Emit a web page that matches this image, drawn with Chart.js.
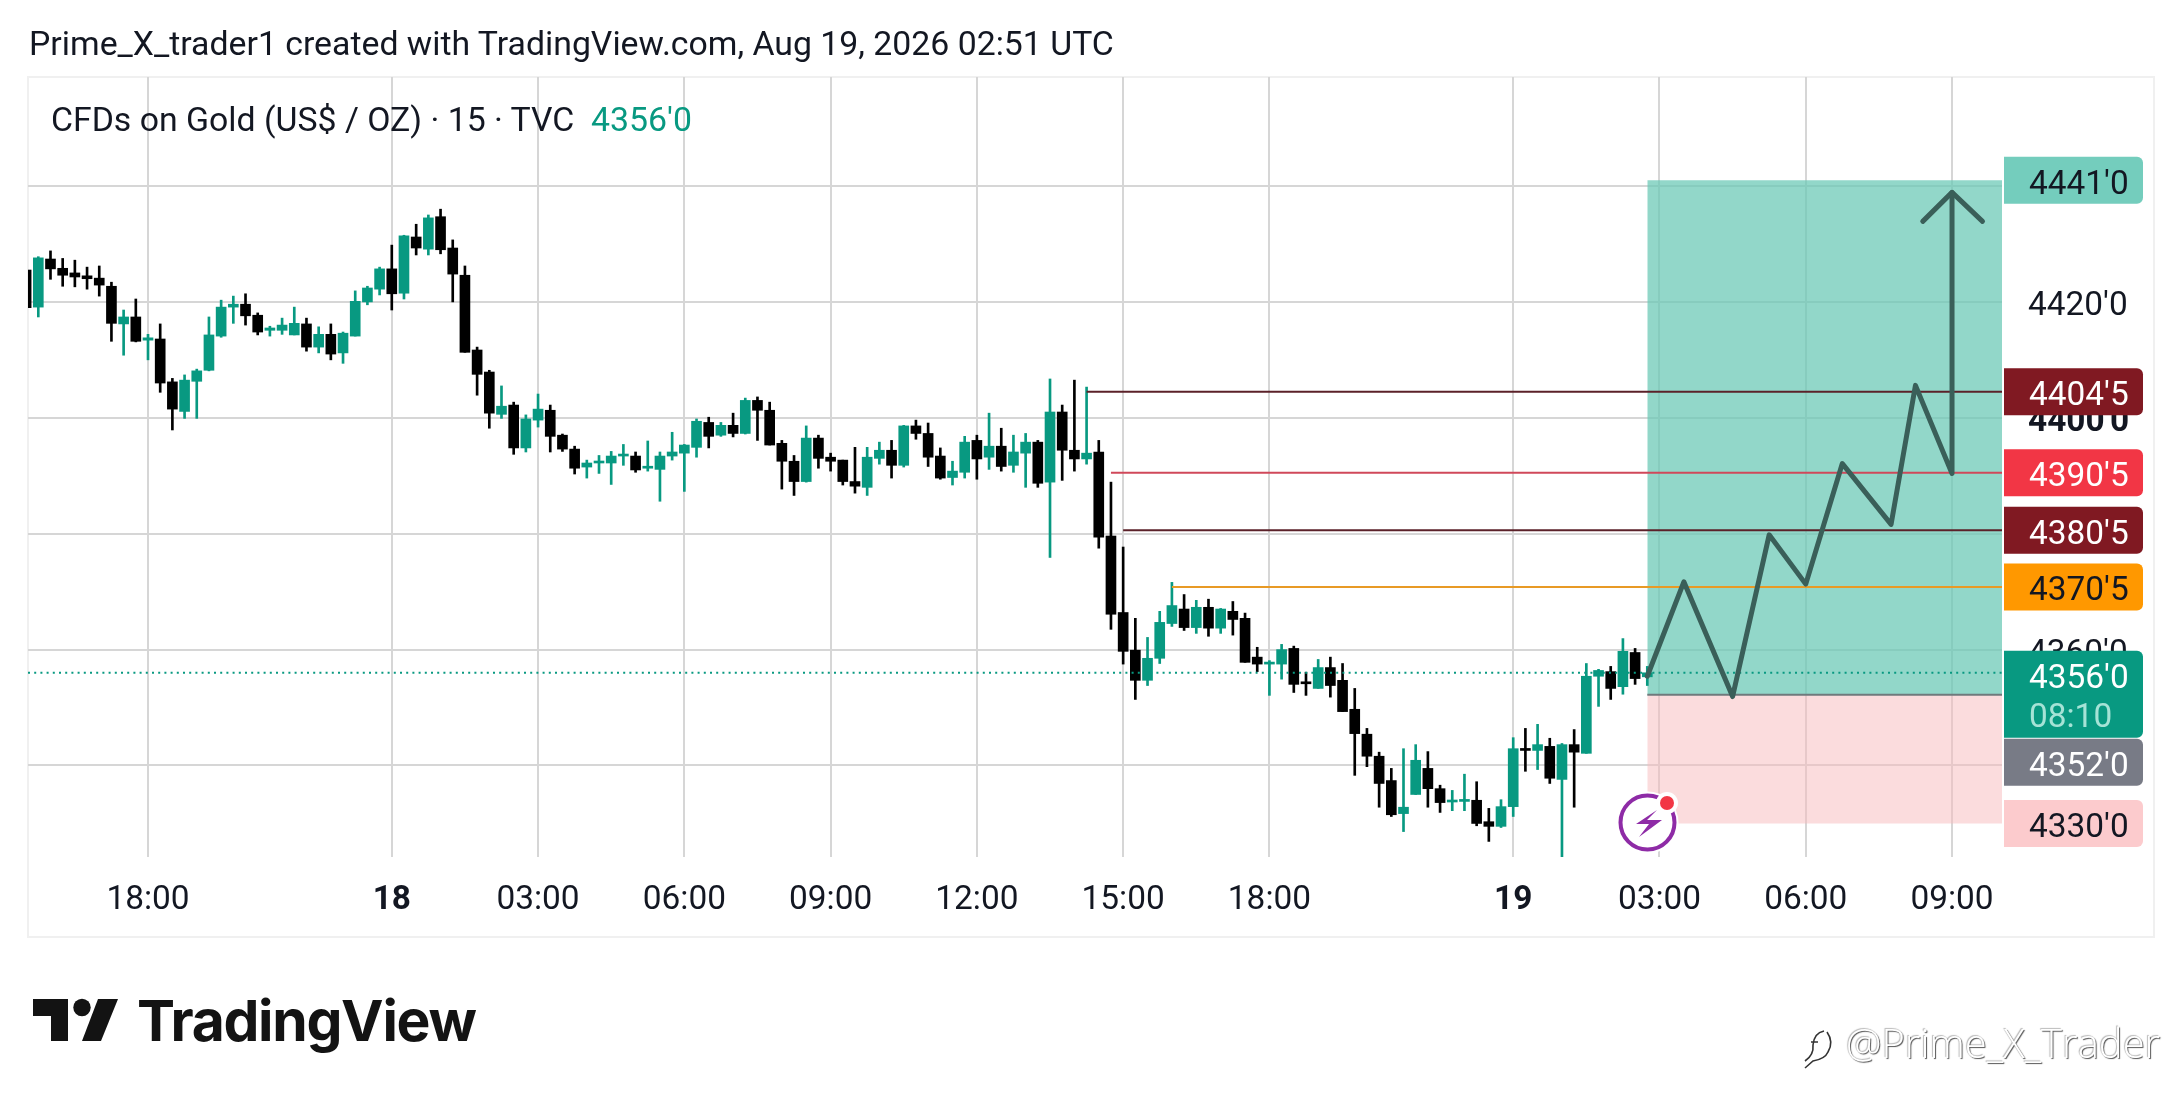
<!DOCTYPE html>
<html>
<head>
<meta charset="utf-8">
<title>CFDs on Gold</title>
<script src="https://cdn.jsdelivr.net/npm/chart.js@4"></script>
<style>
html,body{margin:0;padding:0;background:#fff;overflow:hidden;}
#wrap{position:relative;width:2181px;height:1106px;}
canvas{position:absolute;left:0;top:0;display:block;}
.txt{position:absolute;white-space:nowrap;font-family:Roboto,sans-serif;color:#131722;}
#frame{position:absolute;left:27px;top:76px;width:2124px;height:858px;border:2px solid #f0f0f0;}
svg{position:absolute;left:0;top:0;}
</style>
</head>
<body>
<div id="wrap">
<div id="frame"></div>
<canvas id="chart" width="2181" height="1106"></canvas>
<div class="txt" style="left:29px;top:24px;font-size:33.8px;line-height:40px;">Prime_X_trader1 created with TradingView.com, Aug 19, 2026 02:51 UTC</div>
<div class="txt" style="left:51px;top:100px;font-size:33.8px;line-height:40px;">CFDs on Gold (US$ / OZ) · 15 · TVC</div>
<div class="txt" style="left:591px;top:100px;font-size:33.8px;line-height:40px;color:#089981;">4356'0</div>
<svg width="2181" height="1106">
  <polygon points="33,999 68,999 68,1041 51,1041 51,1016 33,1016" fill="#131313"/>
  <circle cx="82" cy="1007.5" r="8.7" fill="#131313"/>
  <polygon points="98,999 118,999 101,1041 82,1041" fill="#131313"/>
  <circle cx="1647.5" cy="822.5" r="31" fill="#fff"/>
  <circle cx="1647.5" cy="822.5" r="27" fill="#fff" stroke="#8e2ba6" stroke-width="4"/>
  <polygon points="1657,810 1636,824 1649,824 1639,837 1662,820 1647,820" fill="#8e2ba6"/>
  <circle cx="1667" cy="803" r="11" fill="#fff"/>
  <circle cx="1667" cy="803" r="7" fill="#f23645"/>
</svg>
<div class="txt" style="left:137px;top:986px;font-family:Inter,sans-serif;font-weight:700;font-size:57px;line-height:70px;color:#131313;letter-spacing:-1.3px;">TradingView</div>
<div class="txt" style="left:1846px;top:1016px;font-family:'Open Sans',sans-serif;font-weight:300;font-size:40px;line-height:54px;color:#fff;text-shadow:1px 1px 1px #555,-1px -1px 1px #bbb;">@Prime_X_Trader</div>
<svg width="2181" height="1106" style="pointer-events:none;">
  <path d="M1805 1061 q9 -6 8 -16 q1 -12 11 -14 M1811 1042 l7 0 M1827 1032 q7 10 1 20 q-3 7 -15 9 l-8 7" fill="none" stroke="#333" stroke-width="1.6"/>
</svg>
</div>
<script>
// 15 min bars, oldest first
const opens=[4425.5,4419.1,4427.4,4425.8,4425.0,4424.5,4424.1,4422.7,4416.2,4417.4,
4413.4,4413.6,4406.2,4401.1,4406.3,4408.2,4414.1,4419.1,4419.6,4417.7,
4415.1,4415.1,4414.3,4416.2,4412.2,4414.4,4411.2,4414.1,4420.0,4422.2,
4425.7,4421.5,4431.2,4429.1,4434.7,4429.3,4424.6,4411.7,4407.9,4400.6,
4402.2,4394.8,4399.6,4401.3,4397.0,4394.6,4391.5,4392.2,4392.2,4393.4,
4393.4,4391.3,4391.1,4393.4,4393.9,4394.9,4399.2,4397.0,4398.7,4397.3,
4403.0,4401.3,4395.6,4392.5,4389.0,4396.5,4393.2,4392.7,4389.0,4388.0,
4393.0,4394.4,4391.8,4398.6,4397.3,4393.4,4389.7,4390.6,4396.1,4393.2,
4395.1,4391.8,4393.9,4395.8,4388.9,4401.0,4394.4,4392.9,4394.1,4379.6,
4366.4,4359.9,4354.7,4358.5,4364.5,4367.0,4363.8,4367.3,4363.7,4366.6,
4365.4,4358.7,4357.5,4357.5,4360.2,4354.3,4353.3,4356.9,4354.7,4349.7,
4345.4,4341.6,4337.4,4331.7,4335.0,4339.5,4336.0,4333.7,4333.8,4334.0,
4330.3,4329.5,4332.9,4342.9,4342.6,4343.3,4337.6,4343.6,4342.1,4355.4,
4356.2,4353.6,4359.5,4355.3];
const closes=[4419.0,4427.6,4425.7,4424.6,4424.3,4424.0,4422.9,4416.3,4417.4,4413.2,
4413.8,4406.0,4401.5,4406.5,4408.1,4414.3,4419.1,4419.6,4417.6,4414.8,
4415.5,4416.0,4416.3,4412.2,4414.4,4411.0,4414.6,4420.1,4422.4,4425.7,
4421.4,4431.4,4429.3,4434.5,4429.0,4424.8,4411.3,4407.5,4400.8,4402.0,
4394.8,4399.8,4401.5,4396.8,4394.6,4391.3,4392.2,4392.5,4393.4,4393.7,
4391.0,4391.6,4393.4,4394.1,4395.3,4399.4,4396.8,4398.7,4397.3,4403.0,
4401.3,4395.3,4392.5,4389.0,4396.5,4393.0,4392.5,4389.0,4388.2,4393.2,
4394.4,4391.8,4398.6,4397.3,4393.2,4389.6,4390.8,4395.8,4392.9,4395.1,
4391.6,4394.1,4395.8,4388.7,4401.0,4394.4,4392.9,4393.9,4379.4,4366.1,
4359.7,4354.7,4358.5,4364.7,4367.6,4363.8,4367.3,4363.7,4367.0,4365.2,
4357.8,4357.5,4357.8,4360.0,4354.0,4354.1,4356.9,4353.8,4349.3,4345.5,
4341.6,4336.9,4331.5,4332.8,4340.9,4336.0,4333.6,4334.0,4334.1,4330.0,
4329.5,4332.9,4342.9,4342.6,4343.6,4337.8,4343.6,4342.3,4355.4,4356.4,
4353.3,4359.7,4355.0,4356.0];
const highs=[4425.5,4427.8,4428.8,4427.5,4427.2,4426.0,4426.2,4423.4,4418.6,4420.5,
4414.4,4416.2,4406.8,4407.4,4408.4,4417.4,4420.3,4421.0,4421.4,4418.1,
4415.8,4417.2,4419.1,4417.2,4415.7,4416.2,4414.8,4421.9,4422.7,4426.0,
4429.8,4431.5,4433.4,4435.0,4436.0,4430.7,4426.2,4412.2,4408.2,4405.5,
4402.7,4400.5,4404.1,4402.2,4397.2,4395.1,4392.7,4393.5,4394.2,4395.4,
4394.1,4396.0,4394.1,4397.5,4395.4,4399.8,4400.1,4399.2,4400.8,4403.4,
4403.6,4402.7,4396.1,4393.5,4398.6,4397.0,4393.9,4392.7,4394.9,4394.9,
4395.8,4396.1,4398.7,4399.6,4399.1,4394.8,4392.5,4396.8,4397.0,4400.8,
4398.2,4397.0,4397.3,4396.1,4406.7,4402.2,4406.5,4405.3,4396.1,4388.9,
4377.7,4365.4,4362.1,4366.6,4371.6,4369.5,4368.5,4368.7,4367.1,4368.3,
4366.3,4360.4,4358.1,4360.9,4360.6,4356.1,4358.3,4358.7,4357.6,4353.3,
4346.4,4342.3,4339.5,4342.9,4343.6,4342.4,4336.6,4335.7,4338.5,4337.2,
4332.6,4334.1,4344.8,4346.4,4347.1,4344.7,4343.8,4346.2,4357.6,4356.6,
4357.1,4361.9,4360.2,4357.1];
const lows=[4419.0,4417.4,4423.9,4422.7,4422.6,4422.2,4421.0,4413.2,4410.8,4413.1,
4410.0,4404.4,4397.9,4399.9,4399.9,4408.1,4413.9,4416.3,4416.0,4414.3,
4414.1,4414.4,4414.3,4411.5,4411.2,4410.0,4409.4,4414.1,4419.5,4421.2,
4418.6,4420.5,4428.1,4428.1,4428.3,4420.0,4411.3,4403.9,4398.2,4399.9,
4393.7,4394.1,4398.4,4394.1,4394.2,4390.3,4389.6,4390.4,4388.5,4391.8,
4390.6,4390.8,4385.6,4392.7,4387.3,4393.2,4394.8,4396.8,4396.7,4397.2,
4396.1,4395.3,4387.7,4386.6,4388.9,4391.3,4390.8,4388.4,4387.0,4386.6,
4392.0,4389.6,4391.5,4396.3,4391.6,4389.4,4388.4,4389.6,4389.4,4391.1,
4390.8,4390.6,4388.0,4388.0,4375.9,4389.2,4390.8,4392.0,4377.5,4363.5,
4357.5,4351.4,4353.8,4357.6,4364.0,4363.3,4362.8,4362.3,4362.8,4362.5,
4357.8,4356.2,4352.1,4354.9,4352.6,4352.1,4353.3,4351.8,4349.3,4338.3,
4339.8,4332.8,4331.2,4328.6,4335.0,4332.8,4331.9,4332.2,4332.2,4329.6,
4326.9,4329.3,4331.2,4339.0,4339.3,4336.9,4324.1,4332.8,4342.1,4350.2,
4351.4,4352.3,4354.0,4353.8];

// time axis: bar number -> label
const timeTicks=[10,30,42,54,66,78,90,102,122,134,146,158];
const timeLabels=['18:00','18','03:00','06:00','09:00','12:00','15:00','18:00','19','03:00','06:00','09:00'];
const boldTimes=['18','19'];

// price axis
const priceTicks=[4440,4420,4400,4380,4360,4340];

// horizontal levels drawn on the chart
const levelValues=[4404.5,4390.5,4380.6,4370.8];
const levelStarts=[87,89,90,94];
const levelColors=['#5b2129','#d0485a','#5b2129','#e89a25'];

// long position tool
const positionStart=133;
const entryPrice=4352.2;
const targetPrice=4441;
const stopPrice=4330;

// projected path
const pathBars=[133,136,140,143,146,149,153,155,158,158];
const pathPrices=[4355.4,4371.7,4351.9,4379.8,4371.3,4392.1,4381.6,4405.6,4390.4,4438.9];
const arrowBars=[155.6,158,160.5];
const arrowPrices=[4433.9,4438.9,4433.9];

const lastPrice=4356;
const countdown='08:10';

// axis tags, top to bottom
const tagPrices=[4441,4404.5,4390.5,4380.6,4370.8,4356,4352,4330];
const tagTexts=["4441'0","4404'5","4390'5","4380'5","4370'5","4356'0","4352'0","4330'0"];
const tagFills=['#74cdbd','#801922','#f23645','#801922','#ff9800','#089981','#787b86','#fccbcd'];
const tagInks=['#131722','#fff','#fff','#fff','#131722','#fff','#fff','#131722'];

const xMin=0.155,xMax=162.1;
const green='#089981',black='#000000';
const barColors=closes.map((c,i)=>c>=opens[i]?green:black);
const font='Roboto, sans-serif';

function flat(from,value){return [{x:from,y:value},{x:xMax,y:value}];}
function lineDs(data,color,width,extra){
    return Object.assign({type:'line',data:data,borderColor:color,borderWidth:width,pointRadius:0,tension:0,fill:false,order:1},extra||{});
}

const datasets=[
    {type:'bar',data:opens.map((o,i)=>({x:i,y:[lows[i],highs[i]]})),backgroundColor:barColors,barThickness:2,grouped:false,order:4},
    {type:'bar',data:opens.map((o,i)=>({x:i,y:[o,closes[i]]})),backgroundColor:barColors,barThickness:10,minBarLength:2,grouped:false,order:3},
    lineDs(flat(positionStart,targetPrice),'rgba(0,0,0,0)',0,{fill:{value:entryPrice},backgroundColor:'rgba(106,200,181,0.73)',order:6}),
    lineDs(flat(positionStart,stopPrice),'rgba(0,0,0,0)',0,{fill:{value:entryPrice},backgroundColor:'rgba(247,185,187,0.5)',order:6}),
    lineDs(flat(positionStart,entryPrice),'#6f7a7c',2,{order:5}),
    lineDs(flat(xMin,lastPrice),green,2,{borderDash:[2,4.2],order:2})
];
levelValues.forEach((v,i)=>{datasets.push(lineDs(flat(levelStarts[i],v),levelColors[i],2));});
datasets.push(lineDs(pathBars.map((b,i)=>({x:b,y:pathPrices[i]})),'#3a5f59',5,{borderCapStyle:'round',borderJoinStyle:'round',order:0}));
datasets.push(lineDs(arrowBars.map((b,i)=>({x:b,y:arrowPrices[i]})),'#3a5f59',5,{borderCapStyle:'round',borderJoinStyle:'round',order:0}));

// price tags on the right, pushed down when they would overlap
const priceTags={
    id:'priceTags',
    afterDraw(chart){
        const c=chart.ctx,y=chart.scales.y,left=chart.chartArea.right+2,w=139,h=47;
        let lastBottom=0;
        c.save();
        c.textBaseline='middle';
        tagPrices.forEach((p,i)=>{
            const isLast=p===lastPrice;
            const tall=isLast?87:h;
            let top=y.getPixelForValue(p)-(isLast?22:h/2);
            if(top<lastBottom)top=lastBottom+1;
            c.fillStyle=tagFills[i];
            c.beginPath();
            c.roundRect(left,top,w,tall,[0,6,6,0]);
            c.fill();
            c.fillStyle=tagInks[i];
            c.font='33.4px '+font;
            c.textAlign='left';
            c.fillText(tagTexts[i],left+25,top+(isLast?29:h/2+5));
            if(isLast){
                c.fillStyle='#a5e3d6';
                c.fillText(countdown,left+25,top+68);
            }
            lastBottom=top+tall;
        });
        c.restore();
    }
};

new Chart(document.getElementById('chart'),{
    type:'bar',
    data:{datasets:datasets},
    plugins:[priceTags],
    options:{
        responsive:false,
        animation:false,
        devicePixelRatio:1,
        layout:{padding:{left:28,top:77,right:26,bottom:170}},
        plugins:{legend:{display:false},tooltip:{enabled:false}},
        scales:{
            x:{
                type:'linear',
                offset:false,
                min:xMin,
                max:xMax,
                afterBuildTicks(s){s.ticks=timeTicks.map(v=>({value:v}));},
                afterFit(s){s.height=79;},
                grid:{color:'#d6d6d6',lineWidth:2,drawTicks:false,offset:false},
                border:{display:false},
                ticks:{
                    autoSkip:false,
                    maxRotation:0,
                    padding:24,
                    color:'#131722',
                    font(ctx){
                        const t=ctx.tick?timeLabels[timeTicks.indexOf(ctx.tick.value)]:'';
                        return {family:font,size:33.4,weight:boldTimes.includes(t)?'bold':'normal'};
                    },
                    callback(v){return timeLabels[timeTicks.indexOf(v)];}
                }
            },
            y:{
                position:'right',
                min:4324.21,
                max:4458.81,
                afterBuildTicks(s){s.ticks=priceTicks.map(v=>({value:v}));},
                afterFit(s){s.width=153;},
                grid:{color:'#d6d6d6',lineWidth:2,drawTicks:false},
                border:{display:false},
                ticks:{
                    padding:26,
                    labelOffset:5,
                    color:'#131722',
                    font(ctx){
                        return {family:font,size:33.4,weight:ctx.tick&&ctx.tick.value===4400?'bold':'normal'};
                    },
                    callback(v){return v+"'0";}
                }
            }
        }
    }
});
</script>
</body>
</html>
